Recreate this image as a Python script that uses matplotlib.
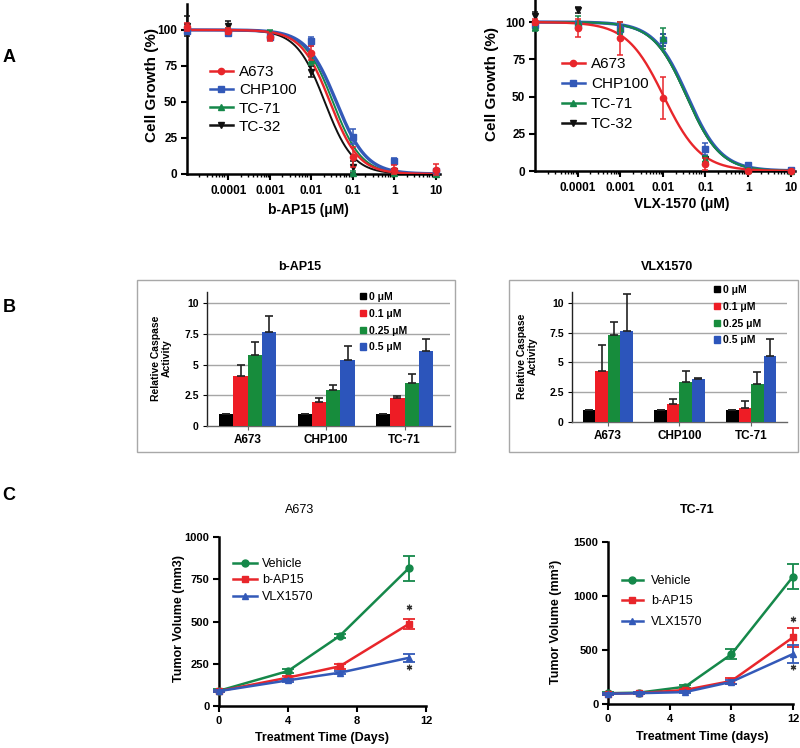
import numpy as np
import matplotlib
matplotlib.use("Agg")
import matplotlib.pyplot as plt
from matplotlib.transforms import Affine2D
from matplotlib.patches import Rectangle, Patch
from matplotlib.lines import Line2D
from matplotlib.ticker import FixedLocator, NullFormatter, LogLocator

plt.rcParams['font.family'] = ['Liberation Sans', 'DejaVu Sans']

# ---------------- data ----------------
# Panel A : cell growth (%) vs dose (uM); dose 0 drawn at left edge
dose_uM = [0, 1e-4, 1e-3, 1e-2, 1e-1, 1, 10]
dose_tick_labels = ['0.0001', '0.001', '0.01', '0.1', '1', '10']
cell_lines_A = ['A673', 'CHP100', 'TC-71', 'TC-32']

bap_A673 = [102, 99, 95, 84, 12, 3, 3]
bap_A673_sd = [3, 2, 3, 5, 7, 3, 4]
bap_CHP100 = [99, 98, 95, 92, 26, 9, 2]
bap_CHP100_sd = [1, 2, 2, 3, 5, 2, 1]
bap_TC71 = [100, 100, 98, 79, 1, 1, 0]
bap_TC71_sd = [1, 1, 2, 3, 1, 1, 1]
bap_TC32 = [103, 103, 95, 71, 5, 2, 0]
bap_TC32_sd = [7, 3, 2, 4, 4, 1, 1]
bap_ic50 = [0.028, 0.040, 0.033, 0.021]
bap_hill = [1.25, 1.2, 1.26, 1.27]

vlx_A673 = [100, 96, 89, 49, 5, 0, 0]
vlx_A673_sd = [2, 6, 11, 14, 4, 1, 1]
vlx_CHP100 = [98, 98, 95, 88, 15, 4, 1]
vlx_CHP100_sd = [2, 3, 3, 4, 4, 1, 1]
vlx_TC71 = [97, 100, 96, 89, 8, 1, 0]
vlx_TC71_sd = [3, 4, 4, 7, 2, 1, 1]
vlx_TC32 = [104, 108, 95, 88, 8, 1, 0]
vlx_TC32_sd = [3, 2, 2, 4, 2, 1, 1]
vlx_ic50 = [0.0105, 0.038, 0.036, 0.036]
vlx_hill = [1.0, 1.1, 1.1, 1.1]

# Panel B : relative caspase activity
groups_B = ['A673', 'CHP100', 'TC-71']
doses_B = ['0 μM', '0.1 μM', '0.25 μM', '0.5 μM']
bap_casp_0 = [1.0, 1.0, 1.0]
bap_casp_01 = [4.1, 1.95, 2.25]
bap_casp_025 = [5.8, 2.9, 3.5]
bap_casp_05 = [7.65, 5.4, 6.1]
bap_err_0 = [0, 0, 0]
bap_err_01 = [0.9, 0.3, 0.2]
bap_err_025 = [1.05, 0.4, 0.75]
bap_err_05 = [1.3, 1.1, 1.0]
vlx_casp_0 = [1.0, 1.0, 1.0]
vlx_casp_01 = [4.25, 1.5, 1.2]
vlx_casp_025 = [7.3, 3.36, 3.15]
vlx_casp_05 = [7.65, 3.6, 5.5]
vlx_err_0 = [0, 0, 0]
vlx_err_01 = [2.2, 0.4, 0.6]
vlx_err_025 = [1.05, 0.95, 1.05]
vlx_err_05 = [3.05, 0.1, 1.5]

# Panel C : tumour volume
treat_C = ['Vehicle', 'b-AP15', 'VLX1570']
days_a673 = [0, 4, 7, 11]
veh_a673 = [90, 207, 415, 815]
veh_a673_sd = [8, 10, 12, 75]
bap_a673 = [88, 168, 235, 485]
bap_a673_sd = [6, 12, 14, 32]
vlx_a673 = [88, 152, 197, 285]
vlx_a673_sd = [6, 8, 10, 22]

days_tc71 = [0, 2, 5, 8, 12]
veh_tc71 = [100, 105, 160, 460, 1179]
veh_tc71_sd = [10, 10, 15, 45, 115]
bap_tc71 = [95, 100, 130, 213, 617]
bap_tc71_sd = [8, 8, 10, 25, 90]
vlx_tc71 = [95, 100, 110, 205, 463]
vlx_tc71_sd = [8, 8, 10, 20, 80]

# ---------------- style ----------------
RED = '#e8262b'
BLUE = '#3359b8'
GREEN = '#15884a'
BLACK = '#111111'
BAR_COLORS = ['#000000', '#ee1c25', '#178c3c', '#2c55bb']

W, H = 800, 748
fig = plt.figure(figsize=(W / 100, H / 100), dpi=100)
PX = Affine2D().scale(1.0 / W, -1.0 / H).translate(0, 1) + fig.transFigure


def add_ax(l, t, r, b):
    return fig.add_axes([l / W, 1 - b / H, (r - l) / W, (b - t) / H])


def prism_axes(ax):
    for s in ['top', 'right']:
        ax.spines[s].set_visible(False)
    for s in ['left', 'bottom']:
        ax.spines[s].set_linewidth(1.8)
        ax.spines[s].set_color('black')
    ax.tick_params(which='major', direction='out', length=4, width=1.5,
                   colors='black', labelsize=8.5, pad=3)
    for lab in ax.get_xticklabels() + ax.get_yticklabels():
        lab.set_fontweight('bold')


def logistic(x, ic50, hill):
    return 100.0 / (1.0 + (x / ic50) ** hill)


ZERO_AT = 1e-5

# ---------------- Panel A ----------------
axA1 = add_ax(187, 4, 440, 174)
axA2 = add_ax(535, 0, 795, 171)
A_sets = [
    (axA1, [(bap_A673, bap_A673_sd), (bap_CHP100, bap_CHP100_sd), (bap_TC71, bap_TC71_sd),
            (bap_TC32, bap_TC32_sd)], bap_ic50, bap_hill, 'b-AP15 (μM)', 118,
     (159, 85), (308, 203), (210, 65), 0.28, [3, 2, 1, 0]),
    (axA2, [(vlx_A673, vlx_A673_sd), (vlx_CHP100, vlx_CHP100_sd), (vlx_TC71, vlx_TC71_sd),
            (vlx_TC32, vlx_TC32_sd)], vlx_ic50, vlx_hill, 'VLX-1570 (μM)', 114.8,
     (499, 84), (682, 197), (562, 57), 0.40, [3, 1, 2, 0]),
]
markers = ['o', 's', '^', 'v']
colors = [RED, BLUE, GREEN, BLACK]
lws = [1.7, 2.4, 1.4, 1.4]
for ax, series, ic50s, hills, xlabel, ytop, ylab, xlab, legxy, legsp, order in A_sets:
    ax.set_xscale('log')
    xs = [ZERO_AT if d == 0 else d for d in dose_uM]
    xc = np.logspace(-5, 1, 300)
    for k, i in enumerate(order):
        vals, sd = series[i]
        ax.plot(xc, logistic(xc, ic50s[i], hills[i]), color=colors[i], lw=lws[i], zorder=3 + k * 0.1)
        ax.errorbar(xs, vals, yerr=sd, fmt=markers[i], color=colors[i], ms=4.5,
                    capsize=2.5, elinewidth=1.1, capthick=1.1, zorder=4 + k * 0.1,
                    clip_on=False)
    handles = [Line2D([], [], color=colors[i], marker=markers[i], ms=4.5, lw=1.8) for i in range(4)]
    ax.set_xlim(1e-5, 10 ** 1.1)
    ax.set_ylim(0, ytop)
    ax.set_yticks([0, 25, 50, 75, 100])
    ax.xaxis.set_major_locator(FixedLocator([d for d in dose_uM if d > 0]))
    ax.set_xticklabels(dose_tick_labels)
    ax.xaxis.set_minor_locator(LogLocator(base=10, subs=np.arange(2, 10), numticks=20))
    ax.xaxis.set_minor_formatter(NullFormatter())
    prism_axes(ax)
    ax.tick_params(axis='x', which='minor', direction='out', length=2.5, width=1.0)
    ax.tick_params(axis='x', which='major', pad=4)
    ax.set_xlabel(xlabel, fontsize=10, fontweight='bold')
    ax.set_ylabel('Cell Growth (%)', fontsize=11, fontweight='bold')
    ax.yaxis.set_label_coords(ylab[0], ylab[1], transform=PX)
    ax.xaxis.set_label_coords(xlab[0], xlab[1], transform=PX)
    ax.legend(handles, cell_lines_A, loc='upper left', bbox_to_anchor=legxy,
              bbox_transform=PX, frameon=False, fontsize=11, handlelength=1.5,
              handletextpad=0.4, labelspacing=legsp, borderpad=0, borderaxespad=0)

# ---------------- Panel B ----------------
fig.add_artist(Rectangle((137 / W, 1 - 452 / H), (455 - 137) / W, (452 - 280) / H,
                         transform=fig.transFigure, fill=False, ec='#a8a8a8', lw=1))
fig.add_artist(Rectangle((509 / W, 1 - 452 / H), (798 - 509) / W, (452 - 280) / H,
                         transform=fig.transFigure, fill=False, ec='#a8a8a8', lw=1))

B_sets = [
    ((207, 292, 450, 426), (-0.52, 2.58), 0.182, 'b-AP15', (300, 267),
     [bap_casp_0, bap_casp_01, bap_casp_025, bap_casp_05],
     [bap_err_0, bap_err_01, bap_err_025, bap_err_05], (172, 358), (360, 292)),
    ((572, 292, 787, 422), (-0.5, 2.5), 0.175, 'VLX1570', (667, 267),
     [vlx_casp_0, vlx_casp_01, vlx_casp_025, vlx_casp_05],
     [vlx_err_0, vlx_err_01, vlx_err_025, vlx_err_05], (538, 356), (714, 285)),
]
for rect, xl, bw, title, tpos, vals, errs, ylab, legxy in B_sets:
    ax = add_ax(*rect)
    x = np.arange(len(groups_B))
    for j in range(4):
        ax.bar(x + (j - 1.5) * bw, vals[j], bw, color=BAR_COLORS[j], zorder=3,
               yerr=[[0] * len(groups_B), errs[j]], ecolor='#222222',
               error_kw=dict(elinewidth=1.2, capsize=3, capthick=1.2))
    ax.set_xlim(*xl)
    ax.set_ylim(0, 10.9)
    ax.set_yticks([0, 2.5, 5, 7.5, 10])
    ax.set_yticklabels(['0', '2.5', '5', '7.5', '10'])
    ax.set_xticks(x)
    ax.set_xticklabels(groups_B)
    for yv in [2.5, 5, 7.5, 10]:
        ax.axhline(yv, color='#a6a6a6', lw=1, zorder=1)
    for s in ['top', 'right']:
        ax.spines[s].set_visible(False)
    ax.spines['left'].set_color('#222222')
    ax.spines['left'].set_linewidth(1.0)
    ax.spines['bottom'].set_color('#666666')
    ax.spines['bottom'].set_linewidth(1.0)
    ax.tick_params(axis='y', direction='out', length=3, width=0.8, labelsize=7.5, pad=3)
    ax.tick_params(axis='x', direction='out', length=3, width=0.8, labelsize=8.5, pad=3,
                   color='#666666')
    for lab in ax.get_xticklabels() + ax.get_yticklabels():
        lab.set_fontweight('bold')
    ax.set_ylabel('Relative Caspase\nActivity', fontsize=7.5, fontweight='bold',
                  linespacing=1.1)
    ax.yaxis.set_label_coords(ylab[0], ylab[1], transform=PX)
    fig.text(tpos[0] / W, 1 - tpos[1] / H, title, ha='center', va='center',
             fontsize=9, fontweight='bold')
    hnd = [Patch(color=BAR_COLORS[j]) for j in range(4)]
    leg = ax.legend(hnd, doses_B, loc='upper left', bbox_to_anchor=legxy, bbox_transform=PX,
                    frameon=False, fontsize=7.5, handlelength=0.55, handleheight=0.55,
                    handletextpad=0.3, labelspacing=0.65, borderpad=0, borderaxespad=0)
    for t in leg.get_texts():
        t.set_fontweight('bold')

# ---------------- Panel C ----------------
C_sets = [
    ((219, 537, 426, 706), days_a673,
     [(veh_a673, veh_a673_sd), (bap_a673, bap_a673_sd), (vlx_a673, vlx_a673_sd)],
     1000, [0, 250, 500, 750, 1000], 'A673', 'normal', (300, 510),
     'Treatment Time (Days)', (322, 732), 'Tumor Volume (mm3)', (185, 619),
     (233, 558), 0.36, 1.9, 0.4, 12, 5),
    ((608, 542, 793, 704), days_tc71,
     [(veh_tc71, veh_tc71_sd), (bap_tc71, bap_tc71_sd), (vlx_tc71, vlx_tc71_sd)],
     1500, [0, 500, 1000, 1500], 'TC-71', 'bold', (697, 510),
     'Treatment Time (days)', (702, 731), 'Tumor Volume (mm³)', (562, 622),
     (622, 575), 0.68, 1.65, 0.7, 9, 4),
]
c_colors = [GREEN, RED, BLUE]
c_markers = ['o', 's', '^']
for (rect, days, series, ymax, yt, title, tw, tpos, xlab, xlpos, ylab, ylpos,
     legxy, legsp, hl, htp, star_up, star_dn) in C_sets:
    ax = add_ax(*rect)
    for i, (v, sd) in enumerate(series):
        ax.errorbar(days, v, yerr=sd, color=c_colors[i], marker=c_markers[i], ms=5,
                    lw=1.8, elinewidth=1.3, capsize=4, capthick=1.3, zorder=3 + i,
                    clip_on=False)
    ax.set_xlim(0, 12)
    ax.set_ylim(0, ymax)
    # significance marks at final time point (above b-AP15, below VLX1570)
    bv, bsd = series[1]
    vv, vsd = series[2]
    up_disp = ax.transData.transform((days[-1], bv[-1] + bsd[-1]))
    dn_disp = ax.transData.transform((days[-1], vv[-1] - vsd[-1]))
    inv = ax.transData.inverted()
    p_up = inv.transform((up_disp[0], up_disp[1] + star_up))
    p_dn = inv.transform((dn_disp[0], dn_disp[1] - star_dn))
    ax.plot([p_up[0], p_dn[0]], [p_up[1], p_dn[1]], ls='none', marker=(6, 2, 0), ms=4,
            mew=0.9, color='#333333', clip_on=False, zorder=6)
    ax.set_xticks([0, 4, 8, 12])
    ax.set_yticks(yt)
    prism_axes(ax)
    ax.tick_params(labelsize=8)
    ax.set_xlabel(xlab, fontsize=9, fontweight='bold')
    ax.set_ylabel(ylab, fontsize=9, fontweight='bold')
    ax.xaxis.set_label_coords(xlpos[0], xlpos[1], transform=PX)
    ax.yaxis.set_label_coords(ylpos[0], ylpos[1], transform=PX)
    fig.text(tpos[0] / W, 1 - tpos[1] / H, title, ha='center', va='center',
             fontsize=9, fontweight=tw)
    hnd = [Line2D([], [], color=c_colors[i], marker=c_markers[i], ms=5, lw=1.8) for i in range(3)]
    ax.legend(hnd, treat_C, loc='upper left', bbox_to_anchor=legxy, bbox_transform=PX,
              frameon=False, fontsize=9, handlelength=hl, handletextpad=htp,
              labelspacing=legsp, borderpad=0, borderaxespad=0)

# panel letters
for letter, (lx, ly) in zip(['A', 'B', 'C'], [(9, 58), (9, 308), (9, 496)]):
    fig.text(lx / W, 1 - ly / H, letter, ha='center', va='center', fontsize=13,
             fontweight='bold')

fig.savefig('out.png', dpi=100, facecolor='white')
